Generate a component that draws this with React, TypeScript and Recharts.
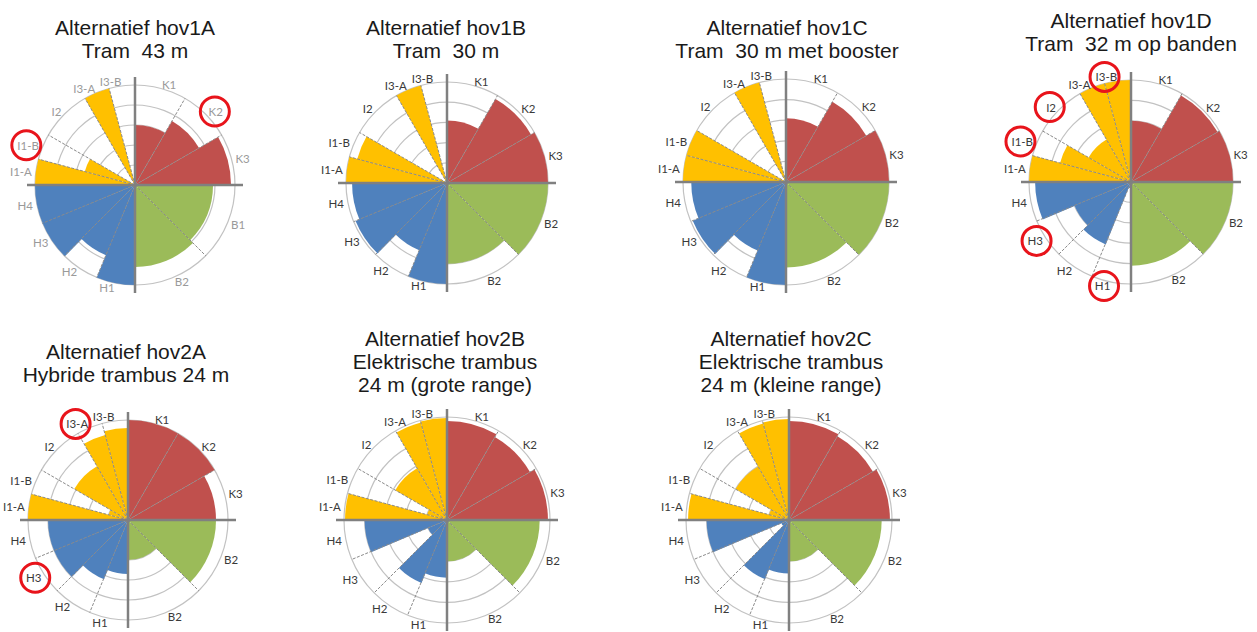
import React from 'react'
import {
  RadialBarChart,
  RadialBar,
  PolarAngleAxis,
  PolarRadiusAxis,
  PolarGrid,
} from 'recharts'

// criteria, clockwise from the top
const categories = ['K1', 'K2', 'K3', 'B1', 'B2', 'H1', 'H2', 'H3', 'H4', 'I1-A', 'I1-B', 'I2', 'I3-A', 'I3-B']

// tick labels (the source repeats "B2" in most charts)
const labelsHov1A = ['K1', 'K2', 'K3', 'B1', 'B2', 'H1', 'H2', 'H3', 'H4', 'I1-A', 'I1-B', 'I2', 'I3-A', 'I3-B']
const labelsOther = ['K1', 'K2', 'K3', 'B2', 'B2', 'H1', 'H2', 'H3', 'H4', 'I1-A', 'I1-B', 'I2', 'I3-A', 'I3-B']

// scores 0..5
const hov1A = [3.0, 3.7, 4.8, 3.9, 4.1, 5.0, 3.8, 5.0, 5.0, 5.0, 2.6, 0, 5.0, 0]
const hov1B = [3.1, 4.8, 5.0, 5.0, 4.0, 5.0, 3.6, 4.9, 4.7, 5.0, 4.6, 0, 5.0, 0]
const hov1C = [3.1, 4.5, 5.0, 5.0, 4.15, 5.0, 3.6, 4.9, 4.6, 5.0, 5.0, 0, 5.0, 0]
const hov1D = [3.0, 4.9, 5.0, 5.0, 4.1, 0.3, 3.3, 3.0, 4.7, 5.0, 3.6, 2.4, 5.0, 5.0]
const hov2A = [5.0, 5.0, 4.4, 4.4, 2.0, 2.7, 3.2, 4.0, 4.0, 5.0, 1.0, 3.1, 4.4, 4.6]
const hov2B = [4.8, 4.65, 4.9, 4.5, 2.0, 2.8, 3.3, 1.0, 4.0, 4.95, 1.0, 2.9, 4.9, 4.95]
const hov2C = [4.8, 4.7, 4.9, 4.5, 2.0, 2.6, 3.1, 0.4, 4.0, 4.9, 1.0, 3.0, 4.85, 4.9]

// labels circled in red
const marked1A = ['K2', 'I1-B']
const marked1D = ['I3-B', 'I2', 'I1-B', 'H3', 'H1']
const marked2A = ['I3-A', 'H3']

const groups = [
  { keys: ['K1', 'K2', 'K3'], start: 90, end: 0, color: '#C0504D' },
  { keys: ['B1', 'B2'], start: 0, end: -90, color: '#9BBB59' },
  { keys: ['H1', 'H2', 'H3', 'H4'], start: -90, end: -180, color: '#4F81BD' },
  { keys: ['I1-A', 'I1-B'], start: 180, end: 150, color: '#FFC000' },
  { keys: ['I2'], start: 150, end: 120, color: '#FFC000' },
  { keys: ['I3-A', 'I3-B'], start: 120, end: 90, color: '#FFC000' },
]

const spokes: number[] = []
groups.forEach((g) => {
  for (let k = 0; k < g.keys.length; k++) {
    const a = g.start + ((g.end - g.start) * k) / g.keys.length
    if (a % 90 !== 0 && !spokes.includes(a)) spokes.push(a)
  }
})

const charts = [
  { title: ['Alternatief hov1A', 'Tram\u00a0\u00a043 m'], values: hov1A, labels: labelsHov1A, marked: marked1A, cx: 135, cy: 185, r: 100, ty: 16, tx: 135, light: true },
  { title: ['Alternatief hov1B', 'Tram\u00a0\u00a030 m'], values: hov1B, labels: labelsOther, marked: [], cx: 447, cy: 183, r: 101, ty: 16, tx: 446 },
  { title: ['Alternatief hov1C', 'Tram\u00a0\u00a030 m met booster'], values: hov1C, labels: labelsOther, marked: [], cx: 786, cy: 182, r: 103, ty: 16, tx: 787 },
  { title: ['Alternatief hov1D', 'Tram\u00a0\u00a032 m op banden'], values: hov1D, labels: labelsOther, marked: marked1D, cx: 1131, cy: 182, r: 102, ty: 9, tx: 1131 },
  { title: ['Alternatief hov2A', 'Hybride trambus 24 m'], values: hov2A, labels: labelsOther, marked: marked2A, cx: 128, cy: 520, r: 100, ty: 340, tx: 126 },
  { title: ['Alternatief hov2B', 'Elektrische trambus', '24 m (grote range)'], values: hov2B, labels: labelsOther, marked: [], cx: 447, cy: 520, r: 103, ty: 327, tx: 445 },
  { title: ['Alternatief hov2C', 'Elektrische trambus', '24 m (kleine range)'], values: hov2C, labels: labelsOther, marked: [], cx: 789, cy: 520, r: 103, ty: 327, tx: 791 },
]

const S = 320
const labelFont = 'Lato, "Open Sans", sans-serif'

function makeTick(labels: string[], marked: string[], color: string) {
  return (props: any) => {
    const { x, y, textAnchor, payload } = props
    const key = payload.value
    const text = labels[categories.indexOf(key)] ?? key
    const w = text.length * 6.3
    const mid = textAnchor === 'start' ? x + w / 2 : textAnchor === 'end' ? x - w / 2 : x
    return (
      <g>
        <text x={x} y={y} textAnchor={textAnchor} dominantBaseline="central" fontSize={11.5} fontFamily={labelFont} fill={color}>
          {text}
        </text>
        {marked.includes(key) && (
          <circle cx={mid} cy={y} r={14.5} fill="none" stroke="#E8141B" strokeWidth={3} />
        )}
      </g>
    )
  }
}

function Rose({ spec }: { spec: any }) {
  const data = categories.map((k, i) => ({ key: k, value: spec.values[i] }))
  const tick = makeTick(spec.labels, spec.marked, spec.light ? '#9a9a9a' : '#3a3a3a')
  const common = {
    width: S,
    height: S,
    cx: S / 2,
    cy: S / 2,
    innerRadius: 0,
    layout: 'centric' as any,
    barCategoryGap: 0,
    barGap: 0,
    margin: { top: 0, right: 0, bottom: 0, left: 0 },
  }
  const layer = { position: 'absolute' as const, left: 0, top: 0 }

  return (
    <div style={{ position: 'absolute', left: spec.cx - S / 2, top: spec.cy - S / 2, width: S, height: S }}>
      {groups.map((g, gi) => {
        // a category's bar is drawn one band counter-clockwise of its tick, so the bars chart is turned one band
        const band = (g.start - g.end) / g.keys.length
        return (
          <div key={gi} style={layer}>
            <RadialBarChart
              {...common}
              data={data.filter((d) => g.keys.includes(d.key))}
              outerRadius={spec.r}
              startAngle={g.start - band}
              endAngle={g.end - band}
            >
              {gi === 0 && <PolarGrid gridType="circle" radialLines={false} stroke="#c2c2c2" strokeWidth={1.2} />}
              <PolarAngleAxis type="category" dataKey="key" tick={false} tickLine={false} axisLine={false} />
              <PolarRadiusAxis type="number" domain={[0, 5]} tickCount={6} tick={false} axisLine={false} />
              <RadialBar dataKey="value" fill={g.color} isAnimationActive={false} />
            </RadialBarChart>
          </div>
        )
      })}
      <div style={layer}>
        <RadialBarChart {...common} data={data} outerRadius={spec.r} startAngle={90} endAngle={-270}>
          <PolarAngleAxis type="category" dataKey="key" tick={false} tickLine={false} axisLine={false} />
          <PolarRadiusAxis type="number" domain={[0, 5]} tick={false} axisLine={false} />
          <PolarGrid gridType="circle" polarRadius={[]} polarAngles={spokes} stroke="#8a8a8a" strokeWidth={1} strokeDasharray="3 1.5" />
        </RadialBarChart>
      </div>
      <div style={layer}>
        <RadialBarChart {...common} data={data} outerRadius={spec.r + 8} startAngle={90} endAngle={-270}>
          <PolarAngleAxis type="category" dataKey="key" tick={false} tickLine={false} axisLine={false} />
          <PolarRadiusAxis type="number" domain={[0, 5]} tick={false} axisLine={false} />
          <PolarGrid gridType="circle" polarRadius={[]} polarAngles={[0, 90, 180, 270]} stroke="#808080" strokeWidth={2.5} />
        </RadialBarChart>
      </div>
      {groups.map((g, gi) => {
        // labels sit in the middle of each band
        const band = (g.start - g.end) / g.keys.length
        return (
          <div key={'l' + gi} style={layer}>
            <RadialBarChart
              {...common}
              data={data.filter((d) => g.keys.includes(d.key))}
              outerRadius={spec.r}
              startAngle={g.start - band / 2}
              endAngle={g.end - band / 2}
            >
              <PolarAngleAxis type="category" dataKey="key" tick={tick} tickLine={false} axisLine={false} tickSize={4} />
              <PolarRadiusAxis type="number" domain={[0, 5]} tick={false} axisLine={false} />
              <RadialBar dataKey="value" fill="none" isAnimationActive={false} />
            </RadialBarChart>
          </div>
        )
      })}
    </div>
  )
}

export default function App() {
  return (
    <div style={{ position: 'absolute', left: 0, top: 0, width: 1257, height: 632, background: '#fff', overflow: 'hidden' }}>
      {charts.map((c, i) => (
        <Rose key={i} spec={c} />
      ))}
      {charts.map((c, i) => (
        <div
          key={'t' + i}
          style={{
            position: 'absolute',
            left: c.tx - 160,
            top: c.ty,
            width: 320,
            textAlign: 'center',
            fontFamily: '"Liberation Sans", Arial, sans-serif',
            fontSize: 21,
            lineHeight: '23px',
            color: '#1a1a1a',
            whiteSpace: 'nowrap',
          }}
        >
          {c.title.map((t: string, j: number) => (
            <div key={j}>{t}</div>
          ))}
        </div>
      ))}
    </div>
  )
}
